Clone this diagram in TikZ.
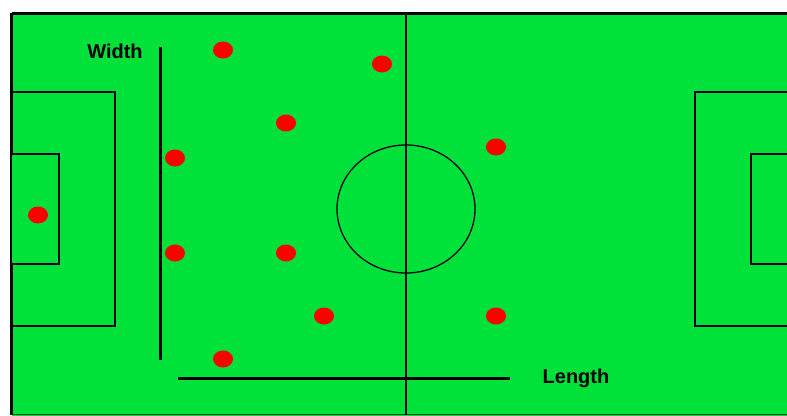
\documentclass[tikz,border=0pt]{standalone}
\usepackage{fontspec}
\setmainfont{Liberation Sans}
\usepackage{xcolor}
\usepackage{tikz}
\usetikzlibrary{shapes.geometric}
\definecolor{pitchgreen}{HTML}{00E13A}
\definecolor{playerred}{HTML}{FF0000}

\tikzset{
  player/.style={ellipse, fill=playerred, minimum width=20pt, minimum height=17pt, inner sep=0pt},
  marking/.style={draw=black, line width=1.3pt},
  measure/.style={draw=black, line width=3pt},
  dimtext/.style={font=\fontsize{20}{23}\selectfont\bfseries, inner sep=0pt}
}

\begin{document}
\begin{tikzpicture}[x=1pt, y=-1pt]
    \useasboundingbox (0,0) rectangle (787,415);
    \clip (0,0) rectangle (787,415);
    % pitch
    \fill[pitchgreen] (11.5,13) rectangle (800,420);
    \draw[line width=3pt] (11.5,13) -- (800,13);
    \draw[line width=3pt] (11.5,13) -- (11.5,415);
    \draw[line width=1pt, black!70!pitchgreen] (11.5,414.5) -- (800,414.5);
    \draw[marking] (406,13) -- (406,415);
    \draw[marking] (406,209) ellipse [x radius=69pt, y radius=64pt];
    % boxes
    \draw[marking] (11.5,92) rectangle (115,326);
    \draw[marking, fill=pitchgreen] (11,154) rectangle (59,264);
    \draw[marking] (800,92) rectangle (695,326);
    \draw[marking, fill=pitchgreen] (800,154) rectangle (751,264);

    % width and length
    \coordinate (wtop) at (160,47);
    \coordinate (wbot) at (160,360);
    \coordinate (lleft) at (178,378);
    \coordinate (lright) at (510,378);
    \draw[measure] (wtop) -- (wbot);
    \draw[measure] (lleft) -- (lright);
    \node[dimtext] (width) at (115,51) {Width};
    \node[dimtext] (length) at (576,378) {Length};

    % players
    \node[player] (gk) at (38,215) {};
    \node[player] (p1) at (223,50) {};
    \node[player] (p2) at (175,158) {};
    \node[player] (p3) at (175,253) {};
    \node[player] (p4) at (223,359) {};
    \node[player] (p5) at (286,123) {};
    \node[player] (p6) at (286,253) {};
    \node[player] (p7) at (324,316) {};
    \node[player] (p8) at (382,64) {};
    \node[player] (p9) at (496,147) {};
    \node[player] (p10) at (496,316) {};
  \end{tikzpicture}
\end{document}
